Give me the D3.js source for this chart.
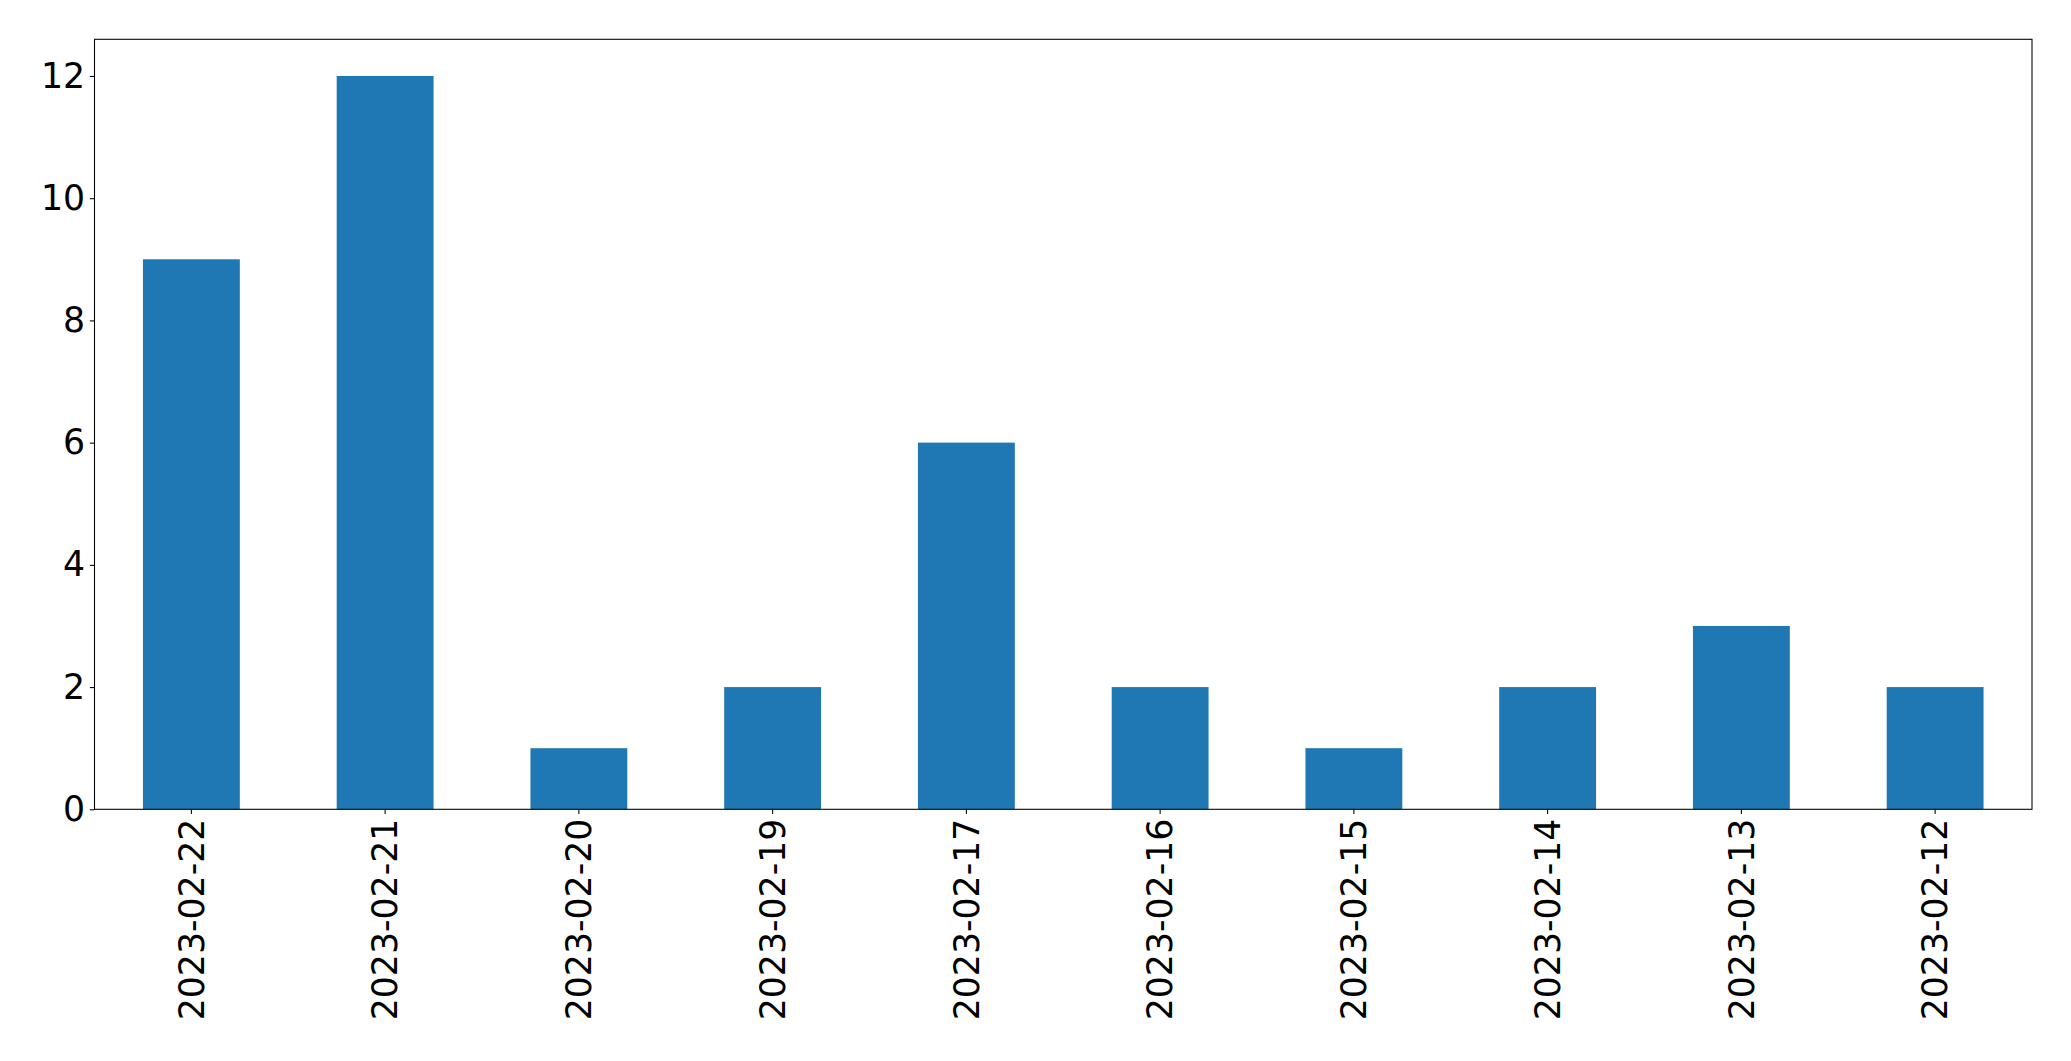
<!DOCTYPE html>
<html><head><meta charset="utf-8">
<script src="https://cdn.jsdelivr.net/npm/d3@7"></script>
<style>html,body{margin:0;padding:0;background:#fff;overflow:hidden}</style>
</head><body>
<script>
const categories = ["2023-02-22","2023-02-21","2023-02-20","2023-02-19","2023-02-17","2023-02-16","2023-02-15","2023-02-14","2023-02-13","2023-02-12"];
const values = [9,12,1,2,6,2,1,2,3,2];
const yTicks = [0,2,4,6,8,10,12];

const W = 2071, H = 1061;
const m = {left: 94.5, right: W - 2032, top: 39.3, bottom: H - 809.3};
const fs = 34.7;
const svg = d3.select("body").append("svg").attr("width", W).attr("height", H);
const iw = W - m.left - m.right, ih = H - m.top - m.bottom;
const g = svg.append("g").attr("transform", `translate(${m.left},${m.top})`);

const x = d3.scaleBand().domain(categories).range([0, iw]).paddingInner(0.5).paddingOuter(0.25);
const y = d3.scaleLinear().domain([0, 12.6]).range([ih, 0]);

g.selectAll("rect.bar").data(values).join("rect")
  .attr("class","bar")
  .attr("x", (d,i) => x(categories[i]))
  .attr("width", x.bandwidth())
  .attr("y", d => y(d))
  .attr("height", d => ih - y(d))
  .attr("fill", "#1f77b4");

const yAxis = g.append("g").call(d3.axisLeft(y).tickValues(yTicks).tickSize(4.7).tickPadding(4.7).tickFormat(d3.format("d")));
const xAxis = g.append("g").attr("transform", `translate(0,${ih})`).call(d3.axisBottom(x).tickSize(4.7).tickPadding(4.7));
[yAxis, xAxis].forEach(a => {
  a.select(".domain").remove();
  a.selectAll("line").attr("stroke","#000").attr("stroke-width",1.07);
  a.selectAll("text").attr("fill","#000").style("font-family","DejaVu Sans").style("font-size", fs+"px");
});
xAxis.selectAll("text")
  .attr("transform", "rotate(-90)")
  .attr("text-anchor","end")
  .attr("x", -(4.7+4.7))
  .attr("y", 0)
  .attr("dy", "0.35em");

g.append("rect").attr("x",0).attr("y",0).attr("width",iw).attr("height",ih)
  .attr("fill","none").attr("stroke","#000").attr("stroke-width",1.07);
</script>
</body></html>
